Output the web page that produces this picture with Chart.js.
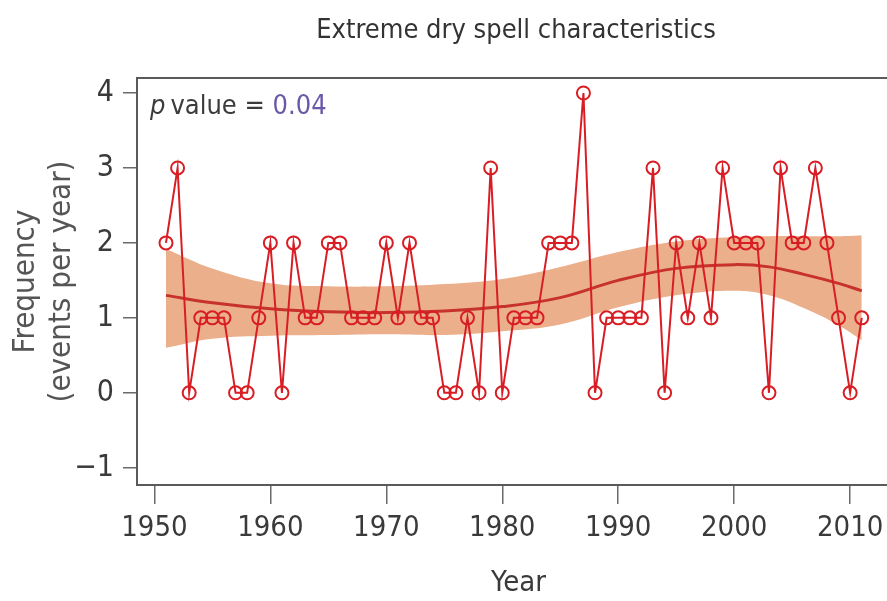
<!DOCTYPE html>
<html>
<head>
<meta charset="utf-8">
<script src="https://cdn.jsdelivr.net/npm/chart.js@4.4.1/dist/chart.umd.min.js"></script>
<style>
  html, body { margin: 0; padding: 0; background: #ffffff; overflow: hidden; }
  #wrap { width: 920px; height: 601px; }
</style>
</head>
<body>
<div id="wrap"><canvas id="chart" width="920" height="601"></canvas></div>
<script>
// Annual number of extreme dry spell events
const years = [
  1951, 1952, 1953, 1954, 1955, 1956, 1957, 1958, 1959, 1960,
  1961, 1962, 1963, 1964, 1965, 1966, 1967, 1968, 1969, 1970,
  1971, 1972, 1973, 1974, 1975, 1976, 1977, 1978, 1979, 1980,
  1981, 1982, 1983, 1984, 1985, 1986, 1987, 1988, 1989, 1990,
  1991, 1992, 1993, 1994, 1995, 1996, 1997, 1998, 1999, 2000,
  2001, 2002, 2003, 2004, 2005, 2006, 2007, 2008, 2009, 2010,
  2011
];
const frequency = [
  2, 3, 0, 1, 1, 1, 0, 0, 1, 2,
  0, 2, 1, 1, 2, 2, 1, 1, 1, 2,
  1, 2, 1, 1, 0, 0, 1, 0, 3, 0,
  1, 1, 1, 2, 2, 2, 4, 0, 1, 1,
  1, 1, 3, 0, 2, 1, 2, 1, 3, 2,
  2, 2, 0, 3, 2, 2, 3, 2, 1, 0,
  1
];

// Smoothed trend and its confidence band
const fitYears = [1951, 1955, 1960, 1965, 1970, 1975, 1980, 1985, 1990, 1995, 2000, 2003, 2006, 2009, 2011];
const fitMid   = [1.30, 1.20, 1.12, 1.08, 1.07, 1.09, 1.15, 1.27, 1.50, 1.66, 1.71, 1.68, 1.58, 1.46, 1.36];
const fitUpper = [1.92, 1.66, 1.46, 1.42, 1.42, 1.45, 1.52, 1.68, 1.88, 2.02, 2.08, 2.09, 2.09, 2.09, 2.10];
const fitLower = [0.60, 0.72, 0.76, 0.77, 0.78, 0.77, 0.82, 0.91, 1.14, 1.30, 1.36, 1.30, 1.13, 0.90, 0.70];

// Axis ticks and labels
const xTicks = [1950, 1960, 1970, 1980, 1990, 2000, 2010];
const yTicks = [-1, 0, 1, 2, 3, 4];
const titleText = 'Extreme dry spell characteristics';
const yTitle = ['Frequency', '(events per year)'];
const xTitle = 'Year';
const pValue = '0.04';

const FONT = '"DejaVu Sans Condensed", "Liberation Sans Narrow", sans-serif';
const RED = '#d81e24';
const FIT = '#c8322c';
const BAND = '#ebaf8b';

const toXY = (xs, ys) => xs.map((x, i) => ({ x: x, y: ys[i] }));

const decorations = {
  id: 'decorations',
  afterDatasetsDraw(chart) {
    const { ctx, chartArea: a } = chart;
    ctx.save();
    // plot frame (top, left and bottom edges; the right edge runs off the page)
    ctx.strokeStyle = '#5a5a5a';
    ctx.lineWidth = 2;
    ctx.beginPath();
    ctx.moveTo(a.right + 40, a.top);
    ctx.lineTo(a.left, a.top);
    ctx.lineTo(a.left, a.bottom);
    ctx.lineTo(a.right + 40, a.bottom);
    ctx.stroke();
    // p value annotation
    ctx.textBaseline = 'middle';
    ctx.textAlign = 'left';
    let x = a.left + 13;
    const y = a.top + 29;
    ctx.fillStyle = '#3c3c3c';
    ctx.font = 'italic 27px ' + FONT;
    ctx.fillText('p', x, y);
    x += ctx.measureText('p').width + 5;
    ctx.font = '27px ' + FONT;
    const mid = 'value = ';
    ctx.fillText(mid, x, y);
    x += ctx.measureText(mid).width;
    ctx.fillStyle = '#6a58a8';
    ctx.fillText(pValue, x, y);
    ctx.restore();
  },
  afterDraw(chart) {
    const { ctx } = chart;
    ctx.save();
    ctx.fillStyle = '#333333';
    ctx.font = '27px ' + FONT;
    ctx.textAlign = 'center';
    ctx.textBaseline = 'middle';
    ctx.fillText(titleText, 516, 31);
    ctx.restore();
  }
};

new Chart(document.getElementById('chart'), {
  type: 'line',
  data: {
    datasets: [
      {
        label: 'Frequency',
        data: toXY(years, frequency),
        borderColor: RED,
        borderWidth: 2,
        pointRadius: 6.5,
        pointBorderWidth: 2,
        pointBorderColor: RED,
        pointBackgroundColor: 'rgba(0,0,0,0)',
        tension: 0,
        fill: false,
        order: 0
      },
      {
        label: 'Trend',
        data: toXY(fitYears, fitMid),
        borderColor: FIT,
        borderWidth: 3,
        pointRadius: 0,
        tension: 0.4,
        fill: false,
        order: 1
      },
      {
        label: 'Upper',
        data: toXY(fitYears, fitUpper),
        borderWidth: 0,
        borderColor: 'rgba(0,0,0,0)',
        pointRadius: 0,
        tension: 0.4,
        backgroundColor: BAND,
        fill: '+1',
        order: 2
      },
      {
        label: 'Lower',
        data: toXY(fitYears, fitLower),
        borderWidth: 0,
        borderColor: 'rgba(0,0,0,0)',
        pointRadius: 0,
        tension: 0.4,
        fill: false,
        order: 3
      }
    ]
  },
  options: {
    responsive: false,
    animation: false,
    devicePixelRatio: 1,
    layout: { padding: { top: 78, right: 20, left: 0, bottom: 0 } },
    plugins: {
      legend: { display: false },
      tooltip: { enabled: false },
      title: { display: false }
    },
    scales: {
      x: {
        type: 'linear',
        position: 'bottom',
        min: 1948.5,
        max: 2014.3,
        afterBuildTicks: (s) => { s.ticks = xTicks.map(v => ({ value: v })); },
        afterFit: (s) => { s.height = 116; },
        grid: { display: true, drawOnChartArea: false, drawTicks: true, tickLength: 19, color: '#6a6a6a', lineWidth: 1.5 },
        border: { display: false },
        ticks: {
          font: { family: FONT, size: 29 },
          color: '#3a3a3a',
          padding: 7,
          maxRotation: 0,
          autoSkip: false,
          callback: (v) => String(v)
        },
        title: {
          display: true,
          text: xTitle,
          font: { family: FONT, size: 29 },
          color: '#3a3a3a',
          padding: { top: 0, bottom: 0 }
        }
      },
      y: {
        min: -1.23,
        max: 4.2,
        afterBuildTicks: (s) => { s.ticks = yTicks.map(v => ({ value: v })); },
        afterFit: (s) => { s.width = 137; },
        grid: { display: true, drawOnChartArea: false, drawTicks: true, tickLength: 14, color: '#6a6a6a', lineWidth: 1.5 },
        border: { display: false },
        ticks: {
          font: { family: FONT, size: 30 },
          color: '#3a3a3a',
          padding: 9,
          callback: (v) => (v < 0 ? '\u2212' + Math.abs(v) : String(v))
        },
        title: {
          display: true,
          text: yTitle,
          font: { family: FONT, size: 31, lineHeight: 1.15 },
          color: '#555555',
          padding: { top: 8, bottom: 0 }
        }
      }
    }
  },
  plugins: [decorations]
});
</script>
</body>
</html>
